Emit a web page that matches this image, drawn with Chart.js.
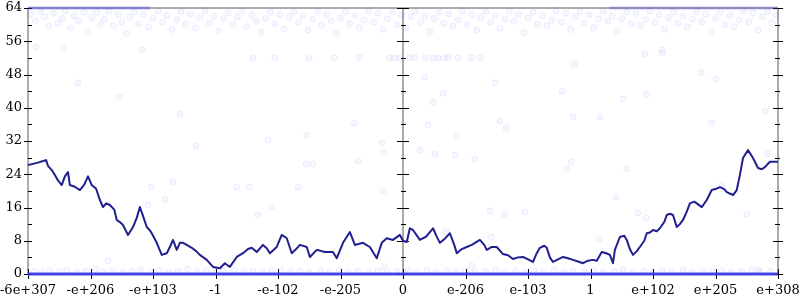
<!DOCTYPE html>
<html>
<head>
<meta charset="utf-8">
<script src="https://cdn.jsdelivr.net/npm/chart.js@4/dist/chart.umd.min.js"></script>
<style>
  body { margin: 0; background: #fff; }
  #wrap { width: 800px; height: 300px; }
</style>
</head>
<body>
<div id="wrap"><canvas id="chart"></canvas></div>
<script>
// tick labels along the bottom, one per unit of x
const xLabels = ['-6e+307', '-e+206', '-e+103', '-1', '-e-102', '-e-205', '0',
  'e-206', 'e-103', '1', 'e+102', 'e+205', 'e+308'];

// the dark running line (x in tick units, y value)
const lineX = [0, 0.08, 0.16, 0.24, 0.29, 0.32, 0.38, 0.43, 0.48, 0.54, 0.59, 0.64, 0.67, 0.75, 0.83, 0.9, 0.96,
  1.02, 1.09, 1.15, 1.2, 1.25, 1.31, 1.38, 1.42, 1.47, 1.52, 1.6, 1.68, 1.74, 1.79, 1.84, 1.9, 1.95, 1.98,
  2.06, 2.14, 2.22, 2.27, 2.32, 2.38, 2.43, 2.48, 2.56, 2.62, 2.69, 2.75, 2.86, 2.96, 3.07, 3.15, 3.23,
  3.34, 3.44, 3.52, 3.58, 3.66, 3.76, 3.82, 3.87, 3.98, 4.06, 4.14, 4.22, 4.29, 4.35, 4.46, 4.51, 4.62,
  4.75, 4.88, 4.94, 5.04, 5.15, 5.23, 5.36, 5.47, 5.58, 5.66, 5.74, 5.84, 5.95, 6, 6.06, 6.11, 6.16,
  6.27, 6.37, 6.48, 6.54, 6.59, 6.67, 6.75, 6.82, 6.86, 6.94, 7.02, 7.1, 7.23, 7.3, 7.34, 7.42, 7.5,
  7.6, 7.68, 7.76, 7.84, 7.92, 8, 8.08, 8.14, 8.19, 8.26, 8.3, 8.35, 8.4, 8.48, 8.56, 8.64, 8.72, 8.8,
  8.88, 8.96, 9.04, 9.1, 9.18, 9.25, 9.31, 9.36, 9.39, 9.47, 9.54, 9.58, 9.63, 9.68, 9.74, 9.79, 9.86,
  9.9, 9.95, 10, 10.06, 10.11, 10.18, 10.22, 10.27, 10.32, 10.38, 10.43, 10.48, 10.54, 10.59, 10.66,
  10.7, 10.78, 10.86, 10.94, 11.01, 11.07, 11.14, 11.18, 11.28, 11.34, 11.39, 11.44, 11.52, 11.6,
  11.68, 11.74, 11.79, 11.87, 11.94, 12];
const lineY = [26.2, 26.5, 26.8, 27.2, 27.4, 26, 25, 23.8, 22.5, 21.4, 23.5, 24.5, 21.4, 21, 20.2, 21.5, 23.5,
  21.4, 20.5, 17.8, 16.1, 17, 16.6, 15.5, 13, 12.5, 11.8, 9.4, 11.3, 13.5, 16.1, 14, 11.3, 10.5, 9.8,
  7.5, 4.6, 5, 6.5, 8.2, 5.8, 7.5, 7.5, 6.8, 6.3, 5.5, 4.6, 3.4, 1.7, 1.4, 2.6, 1.7,
  4.1, 5, 6, 6.3, 5.3, 7, 6.2, 5, 6.5, 9.4, 8.6, 5, 6, 7, 6.5, 4.1, 5.8,
  5.3, 5.3, 3.8, 7.5, 10.1, 7, 7.5, 6.5, 3.8, 7.5, 8.6, 8.2, 9.4, 8, 7.7, 11, 10.6,
  8.2, 9, 11, 9, 7.5, 8.5, 9.8, 7, 5, 6, 6.5, 7, 8.2, 7, 5.8, 6.5, 6.5,
  4.8, 4.5, 3.6, 4, 4.1, 3.5, 2.9, 5, 6.3, 6.8, 6.3, 4, 2.9, 3.5, 4.1, 3.8, 3.4, 3,
  2.6, 3.2, 3.4, 3.2, 5.3, 5, 4.6, 2.6, 5.8, 8.9, 9.2, 8.2, 6, 4.6, 5.5, 6.5, 8,
  9.8, 10, 10.6, 10.3, 11, 12.5, 14.2, 14.5, 14.2, 11.3, 12, 13, 15, 17, 17.4,
  17, 16.1, 17.8, 20.2, 20.5, 20.9, 20.4, 19.7, 19, 20.2, 23.8, 27.9, 29.8, 27.9,
  25.5, 25.2, 25.7, 27, 27, 27];

// faint scattered samples, [x, y]
const topPts = [[0.05,62.5],[0.12,60.8],[0.2,63.1],[0.27,61.9],[0.33,59.6],[0.41,62.7],[0.48,60.3],[0.55,61.5],
  [0.6,63.3],[0.68,59.1],[0.74,62.1],[0.81,60.9],[0.9,63],[0.95,58.4],[1.02,61.7],[1.1,62.9],[1.16,60.1],
  [1.22,61.3],[1.3,63.2],[1.37,59.7],[1.44,62.4],[1.5,60.6],[1.58,57.9],[1.63,61.8],[1.7,63],[1.78,60.2],
  [1.85,62.3],[1.93,59.4],[2.0,61.6],[2.08,63.2],[2.15,60.7],[2.22,62.2],[2.3,58.8],[2.38,61.2],[2.45,63.1],
  [2.52,60.1],[2.6,62.6],[2.68,59.2],[2.75,61.7],[2.83,63.3],[2.9,60.4],[2.97,62.1],[3.05,58.5],[3.13,61.4],
  [3.2,62.9],[3.28,60],[3.35,61.9],[3.43,63.2],[3.5,59.5],[3.58,62.3],[3.65,60.8],[3.73,58.2],[3.8,61.5],
  [3.88,63],[3.95,60.3],[4.03,62.4],[4.1,59],[4.18,61.8],[4.25,63.1],[4.33,60.5],[4.4,62],[4.48,58.7],
  [4.55,61.3],[4.63,63.2],[4.7,59.9],[4.78,62.5],[4.85,60.9],[4.93,57.8],[5.0,61.6],[5.08,63],[5.15,60.2],
  [5.23,62.2],[5.3,59.3],[5.38,61.1],[5.45,63.3],[5.53,60.6],[5.6,62.7],[5.68,58.9],[5.75,61.4],[5.83,63.1],
  [5.9,60],[5.98,62.3],[6.05,59.2],[6.13,61.9],[6.2,63.2],[6.28,60.7],[6.35,62.1],[6.43,58.3],[6.5,61.5],
  [6.58,63],[6.65,60.3],[6.73,62.6],[6.8,59.6],[6.88,61.2],[6.95,63.3],[7.03,60.1],[7.1,62.4],[7.18,58.6],
  [7.25,61.7],[7.33,63.1],[7.4,60.5],[7.48,62],[7.55,59.1],[7.63,61.3],[7.7,63.2],[7.78,60.8],[7.85,62.5],
  [7.93,58.1],[8.0,61.6],[8.08,63],[8.15,60.2],[8.23,62.2],[8.3,59.7],[8.38,61],[8.45,63.3],[8.53,60.6],
  [8.6,62.7],[8.68,58.8],[8.75,61.8],[8.83,63.1],[8.9,60.4],[8.98,62.3],[9.05,59.3],[9.13,61.4],[9.2,63.2],
  [9.28,60.9],[9.35,62.1],[9.43,58.4],[9.5,61.5],[9.58,63],[9.65,60.1],[9.73,62.6],[9.8,59.8],[9.88,61.2],
  [9.95,63.3],[10.03,60.5],[10.1,62.4],[10.18,58.9],[10.25,61.7],[10.33,63.1],[10.4,60.3],[10.48,62],
  [10.55,59.4],[10.63,61.3],[10.7,63.2],[10.78,60.7],[10.85,62.5],[10.93,58.2],[11.0,61.6],[11.08,63],
  [11.15,60],[11.23,62.2],[11.3,59.5],[11.38,61.1],[11.45,63.3],[11.53,60.6],[11.6,62.8],[11.68,58.7],
  [11.75,61.9],[11.83,63.1],[11.9,60.4],[11.97,62.3]];
const midPts = [[0.13,54.6],[0.56,54.4],[0.8,46],[1.46,42.6],[1.82,54],[1.92,16.6],[1.97,20.9],[2.19,18],
  [2.32,22.1],[2.43,38.5],[2.69,30.8],[3.34,20.9],[3.54,20.9],[3.6,52],[3.68,14.2],[3.84,32.2],[3.9,16.1],
  [3.95,52.1],[4.32,20.9],[4.45,26.5],[4.46,33.4],[4.5,51.9],[4.56,26.5],[4.9,52],[5.22,36.3],[5.28,27.2],
  [5.3,52.1],[5.66,31.5],[5.68,20],[5.69,29.3],[5.79,52],[5.86,52],[5.95,51.9],[6.1,52],[6.18,52.1],
  [6.27,29.8],[6.35,47.4],[6.35,52],[6.4,35.9],[6.48,41.4],[6.48,52],[6.51,28.9],[6.56,51.9],[6.64,43.5],
  [6.66,52],[6.69,10.1],[6.72,52.1],[6.83,28.6],[6.86,33.2],[6.88,52],[7.09,52],[7.15,27.7],[7.23,52],
  [7.39,15.2],[7.41,8.9],[7.47,46],[7.55,36.8],[7.62,14.4],[7.65,35.1],[7.95,14.9],[8.54,44],[8.62,25.3],
  [8.69,27],[8.72,37.8],[8.74,50.5],[9.14,8.4],[9.15,37.8],[9.41,18.5],[9.52,42.1],[9.58,25.3],[9.76,14.7],
  [9.87,52.9],[9.89,13.5],[9.9,43.3],[10.14,53.9],[10.15,53.2],[10.77,48.4],[10.94,36.3],[11.01,46.9],
  [11.1,21.4],[11.5,14.4],[11.79,39.2],[11.84,28.9]];
const lowPts = [[0.1,0.6],[0.22,0.4],[0.35,0.8],[0.5,0.5],[0.62,0.9],[0.78,0.4],[0.93,0.7],[1.08,1.1],
  [1.2,0.5],[1.35,0.8],[1.52,0.4],[1.66,0.7],[1.8,1],[1.96,0.5],[2.1,0.8],[2.25,0.4],[2.4,0.6],[2.55,1.2],
  [2.7,0.5],[2.85,0.8],[3.0,0.4],[3.12,0.7],[3.3,0.9],[3.45,0.5],[3.6,0.8],[3.75,0.4],[3.9,0.6],[4.05,1],
  [4.2,0.5],[4.35,0.8],[4.5,0.4],[4.68,0.7],[4.82,0.5],[4.98,0.9],[5.12,0.4],[5.28,0.7],[5.45,0.5],
  [5.6,0.8],[5.75,0.4],[5.9,0.6],[6.08,0.8],[6.22,0.5],[6.38,0.9],[6.52,0.4],[6.7,0.7],[6.85,0.5],
  [7.0,0.8],[7.15,0.4],[7.32,0.6],[7.48,1],[7.62,0.5],[7.8,0.8],[7.95,0.4],[8.1,0.7],[8.25,0.5],[8.42,0.9],
  [8.58,0.4],[8.72,0.7],[8.9,0.5],[9.05,0.8],[9.2,0.4],[9.38,0.6],[9.52,1.1],[9.68,0.5],[9.85,0.8],
  [10.0,0.4],[10.15,0.7],[10.3,0.5],[10.48,0.9],[10.62,0.4],[10.8,0.7],[10.95,0.5],[11.1,0.8],[11.25,0.4],
  [11.42,0.6],[11.58,1],[11.72,0.5],[11.88,0.7],[1.28,3.2],[5.7,1.8],[7.1,1.9],[11.68,1]];

// dense bands where samples pile up
const bottomBandX = [0, 12];
const topBandLeftX = [0, 1.95];
const topBandRightX = [9.3, 12];

const toXY = (xs, ys) => xs.map((x, i) => ({x: x, y: ys[i]}));
const flat = (xs, v) => xs.map(x => ({x: x, y: v}));
const pairs = arr => arr.map(p => ({x: p[0], y: p[1]}));

const ptStyle = {
  type: 'scatter', showLine: false, pointRadius: 3, pointBorderWidth: 1,
  pointBackgroundColor: 'rgba(60,60,255,0.04)', pointBorderColor: 'rgba(60,60,255,0.08)', clip: false
};

// axes, center axis and tick marks drawn under the data
const axesPlugin = {
  id: 'axes',
  beforeDatasetsDraw(chart) {
    const {ctx, chartArea: a, scales} = chart;
    const cx = scales.x.getPixelForValue(6);
    ctx.save();
    ctx.strokeStyle = '#ababab';
    ctx.lineWidth = 2;
    ctx.beginPath();
    ctx.moveTo(a.left, a.top); ctx.lineTo(a.right, a.top);
    ctx.moveTo(a.left, a.bottom); ctx.lineTo(a.right, a.bottom);
    ctx.moveTo(a.left, a.top); ctx.lineTo(a.left, a.bottom);
    ctx.moveTo(a.right, a.top); ctx.lineTo(a.right, a.bottom);
    ctx.moveTo(cx, a.top); ctx.lineTo(cx, a.bottom);
    ctx.stroke();

    ctx.strokeStyle = '#000';
    ctx.lineWidth = 1;
    ctx.beginPath();
    for (let v = 0; v <= 64; v += 4) {
      const y = Math.round(scales.y.getPixelForValue(v)) + 0.5;
      const major = v % 8 === 0;
      ctx.moveTo(a.left - (major ? 4 : 0), y); ctx.lineTo(a.left + 4, y);
      ctx.moveTo(cx - (major ? 6 : 2), y); ctx.lineTo(cx + (major ? 6 : 3), y);
      ctx.moveTo(a.right - (major ? 5 : 3), y); ctx.lineTo(a.right + (major ? 5 : 2), y);
    }
    for (let i = 0; i < xLabels.length; i++) {
      const x = Math.round(scales.x.getPixelForValue(i)) + 0.5;
      ctx.moveTo(x, a.bottom - 5); ctx.lineTo(x, a.bottom + 5);
    }
    ctx.stroke();
    ctx.restore();
  }
};

new Chart(document.getElementById('chart'), {
  type: 'scatter',
  data: {
    datasets: [
      Object.assign({data: pairs(topPts)}, ptStyle),
      Object.assign({data: pairs(midPts)}, ptStyle),
      Object.assign({data: pairs(lowPts)}, ptStyle),
      {type: 'line', data: flat(topBandLeftX, 64), borderColor: 'rgba(70,70,235,0.4)', borderWidth: 3,
        pointRadius: 0, clip: false},
      {type: 'line', data: flat(topBandRightX, 64), borderColor: 'rgba(70,70,235,0.3)', borderWidth: 3,
        pointRadius: 0, clip: false},
      {type: 'line', data: flat(bottomBandX, 0), borderColor: 'rgba(55,55,235,0.9)', borderWidth: 3,
        pointRadius: 0, clip: false},
      {type: 'line', data: toXY(lineX, lineY), borderColor: '#1f1f8f', borderWidth: 2, pointRadius: 0,
        tension: 0, borderJoinStyle: 'round'}
    ]
  },
  options: {
    responsive: true,
    maintainAspectRatio: false,
    animation: false,
    layout: {autoPadding: false, padding: {top: 8, right: 22, left: 0, bottom: 0}},
    plugins: {legend: {display: false}, tooltip: {enabled: false}},
    scales: {
      x: {
        type: 'linear', min: 0, max: 12,
        grid: {display: false, drawTicks: false}, border: {display: false},
        afterFit(scale) {
          scale.height = 26;
          scale.paddingLeft = 0; scale.paddingRight = 0;
          scale.paddingTop = 0; scale.paddingBottom = 0;
        },
        ticks: {
          stepSize: 1, autoSkip: false, maxRotation: 0, padding: 9, color: '#000',
          font: {family: 'DejaVu Serif', size: 13},
          callback: v => xLabels[v]
        }
      },
      y: {
        min: 0, max: 64,
        grid: {display: false, drawTicks: false}, border: {display: false},
        afterFit(scale) {
          scale.width = 28;
          scale.paddingLeft = 0; scale.paddingRight = 0;
          scale.paddingTop = 0; scale.paddingBottom = 0;
        },
        ticks: {stepSize: 8, padding: 6, color: '#000', font: {family: 'DejaVu Serif', size: 13}}
      }
    }
  },
  plugins: [axesPlugin]
});
</script>
</body>
</html>
